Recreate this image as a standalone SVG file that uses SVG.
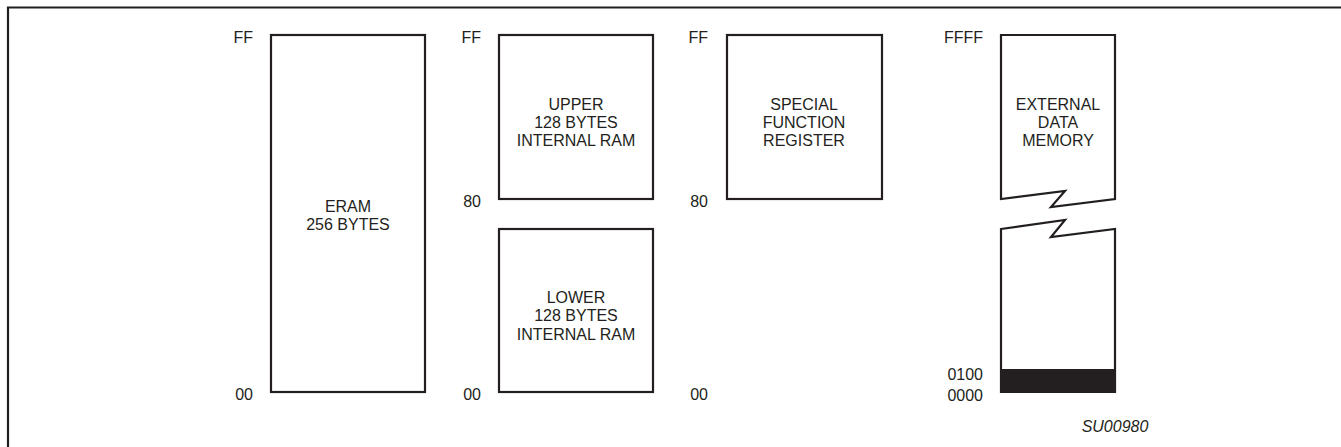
<svg xmlns="http://www.w3.org/2000/svg" width="1341" height="447" viewBox="0 0 1341 447">
<style>
.box{fill:#fff;stroke:#231f20;stroke-width:2.2;stroke-linejoin:miter}
.t{font-family:"Liberation Sans",Arial,sans-serif;font-size:16px;fill:#231f20}
.c{text-anchor:middle}
.e{text-anchor:end}
.frame{fill:none;stroke:#231f20;stroke-width:2.2}
</style>
<rect width="1341" height="447" fill="#fff"/>
<path class="frame" d="M8,450 V7.5 H1341"/>
<g id="eram">
<rect class="box" x="271" y="35" width="154" height="357"/>
<text class="t c" x="348" y="212">ERAM</text>
<text class="t c" x="348" y="230">256 BYTES</text>
<text class="t e" x="253" y="43">FF</text>
<text class="t e" x="253" y="400">00</text>
</g>
<g id="upper">
<rect class="box" x="499" y="35" width="154" height="164"/>
<text class="t c" x="576" y="110">UPPER</text>
<text class="t c" x="576" y="128">128 BYTES</text>
<text class="t c" x="576" y="146">INTERNAL RAM</text>
<text class="t e" x="481" y="43">FF</text>
<text class="t e" x="481" y="207">80</text>
</g>
<g id="lower">
<rect class="box" x="499" y="229" width="154" height="163"/>
<text class="t c" x="576" y="303">LOWER</text>
<text class="t c" x="576" y="321">128 BYTES</text>
<text class="t c" x="576" y="340">INTERNAL RAM</text>
<text class="t e" x="481" y="400">00</text>
</g>
<g id="sfr">
<rect class="box" x="727" y="35" width="155" height="164"/>
<text class="t c" x="804" y="110">SPECIAL</text>
<text class="t c" x="804" y="128">FUNCTION</text>
<text class="t c" x="804" y="146">REGISTER</text>
<text class="t e" x="708" y="43">FF</text>
<text class="t e" x="708" y="207">80</text>
<text class="t e" x="708" y="400">00</text>
</g>
<g id="external">
<path class="box" d="M1001,35 H1115 V199 L1051,207 L1065,191 L1001,199 Z"/>
<path class="box" d="M1001,229 L1065,220 L1051,237 L1115,229 V392 H1001 Z"/>
<rect x="1000" y="369" width="116" height="24" fill="#231f20"/>
<text class="t c" x="1058" y="110">EXTERNAL</text>
<text class="t c" x="1058" y="128">DATA</text>
<text class="t c" x="1058" y="146">MEMORY</text>
<text class="t e" x="983" y="43">FFFF</text>
<text class="t e" x="983" y="380">0100</text>
<text class="t e" x="983" y="401">0000</text>
</g>
<g id="connectors"></g>
<text class="t c" x="1115" y="432" font-style="italic">SU00980</text>
</svg>
